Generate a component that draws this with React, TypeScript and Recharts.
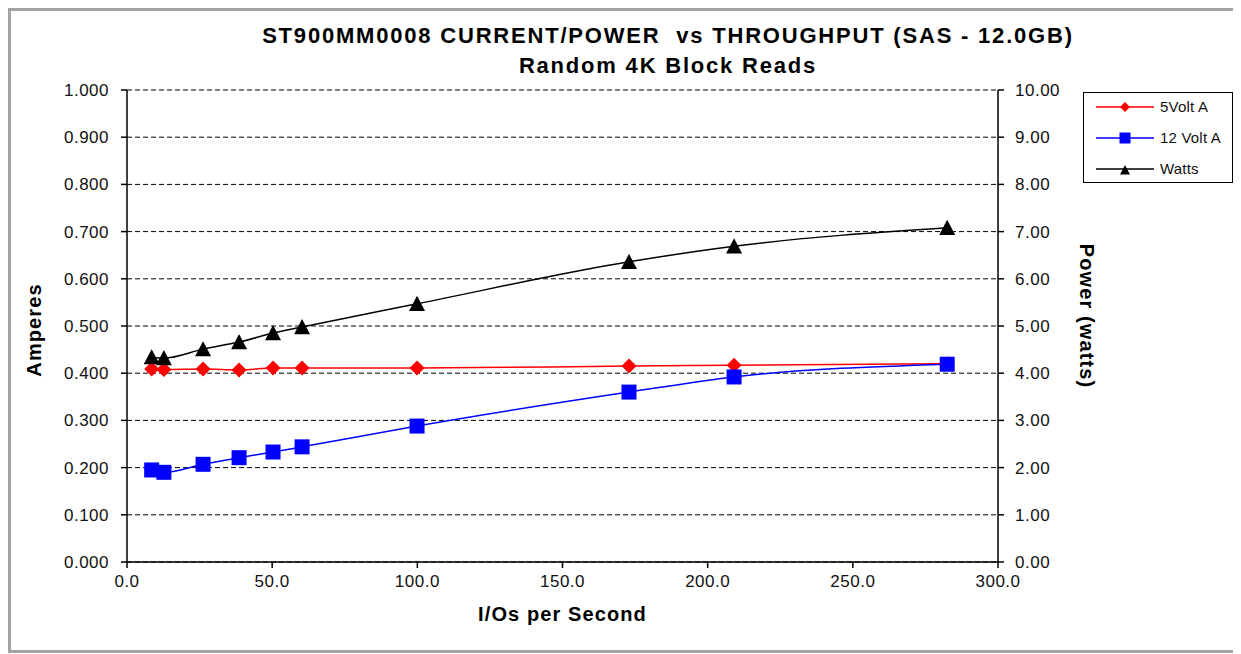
import { CartesianGrid, Label, Legend, Line, LineChart, XAxis, YAxis } from 'recharts'

// values
const iops = [8.5, 12.7, 26.2, 38.6, 50.3, 60.3, 99.9, 172.9, 209.1, 282.5]
const amps5v = [0.409, 0.408, 0.409, 0.407, 0.411, 0.411, 0.411, 0.415, 0.417, 0.42]
const amps12v = [0.195, 0.19, 0.207, 0.221, 0.233, 0.244, 0.288, 0.36, 0.392, 0.419]
const watts = [4.34, 4.32, 4.51, 4.66, 4.85, 4.98, 5.47, 6.36, 6.69, 7.08]

const xTicks = [0, 50, 100, 150, 200, 250, 300]
const ampTicks = [0, 0.1, 0.2, 0.3, 0.4, 0.5, 0.6, 0.7, 0.8, 0.9, 1]
const wattTicks = [0, 1, 2, 3, 4, 5, 6, 7, 8, 9, 10]

const data = iops.map((x, i) => ({
  iops: x,
  a5: amps5v[i],
  a12: amps12v[i],
  watts: watts[i],
}))

const FONT = '"Liberation Sans", Arial, sans-serif'
const tickStyle = { fontSize: 17, fill: '#111', fontFamily: FONT, letterSpacing: 0.5 }
const axisTitle = { fontSize: 20, fontWeight: 'bold', fill: '#000', fontFamily: FONT, letterSpacing: 1.1 }

function diamond(cx: number, cy: number, r: number) {
  return `${cx},${cy - r} ${cx + r},${cy} ${cx},${cy + r} ${cx - r},${cy}`
}
function triangle(cx: number, cy: number, r: number) {
  return `${cx},${cy - r} ${cx + r},${cy + r * 0.9} ${cx - r},${cy + r * 0.9}`
}

function DiamondDot(props: any) {
  const { cx, cy, index } = props
  return <polygon key={`d${index}`} points={diamond(cx, cy, 7.5)} fill="#ff0000" />
}
function SquareDot(props: any) {
  const { cx, cy, index } = props
  return <rect key={`s${index}`} x={cx - 7.5} y={cy - 7.5} width={15} height={15} fill="#0000ff" />
}
function TriangleDot(props: any) {
  const { cx, cy, index } = props
  return <polygon key={`t${index}`} points={triangle(cx, cy, 8)} fill="#000" />
}

const series = [
  { name: '5Volt A', color: '#ff0000', marker: 'diamond' },
  { name: '12 Volt A', color: '#0000ff', marker: 'square' },
  { name: 'Watts', color: '#000000', marker: 'triangle' },
]

function LegendBox() {
  return (
    <div
      style={{
        position: 'relative',
        width: 150,
        height: 91,
        boxSizing: 'border-box',
        border: '1.5px solid #000',
        background: '#fff',
        fontFamily: FONT,
      }}
    >
      {series.map((s, i) => (
        <div key={s.name} style={{ position: 'absolute', left: 0, top: 3 + 31 * i, height: 22, width: '100%' }}>
          <svg width={62} height={22} style={{ position: 'absolute', left: 12, top: 0 }}>
            <line x1={0} y1={11} x2={58} y2={11} stroke={s.color} strokeWidth={1.5} />
            {s.marker === 'diamond' && <polygon points={diamond(29, 11, 5)} fill={s.color} />}
            {s.marker === 'square' && <rect x={23.5} y={5.5} width={11} height={11} fill={s.color} />}
            {s.marker === 'triangle' && <polygon points={triangle(29, 12, 5)} fill={s.color} />}
          </svg>
          <span style={{ position: 'absolute', left: 76, top: 2, fontSize: 15, letterSpacing: 0.2, color: '#111' }}>
            {s.name}
          </span>
        </div>
      ))}
    </div>
  )
}

export default function App() {
  return (
    <div
      style={{
        position: 'relative',
        width: 1230,
        height: 645,
        boxSizing: 'border-box',
        border: '3px solid #a3a3a3',
        background: '#fff',
      }}
    >
      <div
        style={{
          position: 'absolute',
          left: 42,
          top: 12,
          width: 1230,
          textAlign: 'center',
          fontFamily: FONT,
          fontWeight: 'bold',
          fontSize: 22,
          lineHeight: '25px',
          letterSpacing: 1.8,
          whiteSpace: 'pre',
        }}
      >
        <div>ST900MM0008 CURRENT/POWER  vs THROUGHPUT (SAS - 12.0GB)</div>
        <div style={{ marginTop: 5 }}>Random 4K Block Reads</div>
      </div>
      <div style={{ position: 'absolute', left: -3, top: -3 }}>
        <LineChart width={1230} height={645} data={data} margin={{ top: 82, right: 150, bottom: 31, left: 29 }}>
          <CartesianGrid yAxisId="left" vertical={false} stroke="#000" strokeDasharray="5 3" />
          <XAxis
            dataKey="iops"
            type="number"
            domain={[0, 300]}
            ticks={xTicks}
            tickFormatter={(v: number) => v.toFixed(1)}
            height={60}
            tickSize={6}
            tickMargin={7}
            stroke="#000"
            strokeWidth={1.5}
            tick={tickStyle}
          >
            <Label value="I/Os per Second" position="center" dy={22} style={axisTitle} />
          </XAxis>
          <YAxis
            yAxisId="left"
            domain={[0, 1]}
            ticks={ampTicks}
            tickFormatter={(v: number) => v.toFixed(3)}
            width={90}
            tickSize={6}
            tickMargin={12}
            stroke="#000"
            strokeWidth={1.5}
            tick={tickStyle}
          >
            <Label value="Amperes" position="center" angle={-90} dx={-48} dy={4} style={axisTitle} />
          </YAxis>
          <YAxis
            yAxisId="right"
            orientation="right"
            domain={[0, 10]}
            ticks={wattTicks}
            tickFormatter={(v: number) => v.toFixed(2)}
            width={90}
            tickSize={6}
            tickMargin={11}
            stroke="#000"
            strokeWidth={1.5}
            tick={tickStyle}
          >
            <Label value="Power (watts)" position="center" angle={90} dx={44} dy={-10} style={axisTitle} />
          </YAxis>
          <Legend
            layout="vertical"
            align="center"
            verticalAlign="middle"
            content={() => <LegendBox />}
            wrapperStyle={{ left: 1075, top: 84, width: 150, height: 91 }}
          />
          <Line
            yAxisId="left"
            dataKey="a5"
            name="5Volt A"
            type="monotone"
            stroke="#ff0000"
            strokeWidth={1.5}
            dot={DiamondDot}
            isAnimationActive={false}
          />
          <Line
            yAxisId="left"
            dataKey="a12"
            name="12 Volt A"
            type="monotone"
            stroke="#0000ff"
            strokeWidth={1.5}
            dot={SquareDot}
            isAnimationActive={false}
          />
          <Line
            yAxisId="right"
            dataKey="watts"
            name="Watts"
            type="monotone"
            stroke="#000"
            strokeWidth={1.5}
            dot={TriangleDot}
            isAnimationActive={false}
          />
        </LineChart>
      </div>
    </div>
  )
}
